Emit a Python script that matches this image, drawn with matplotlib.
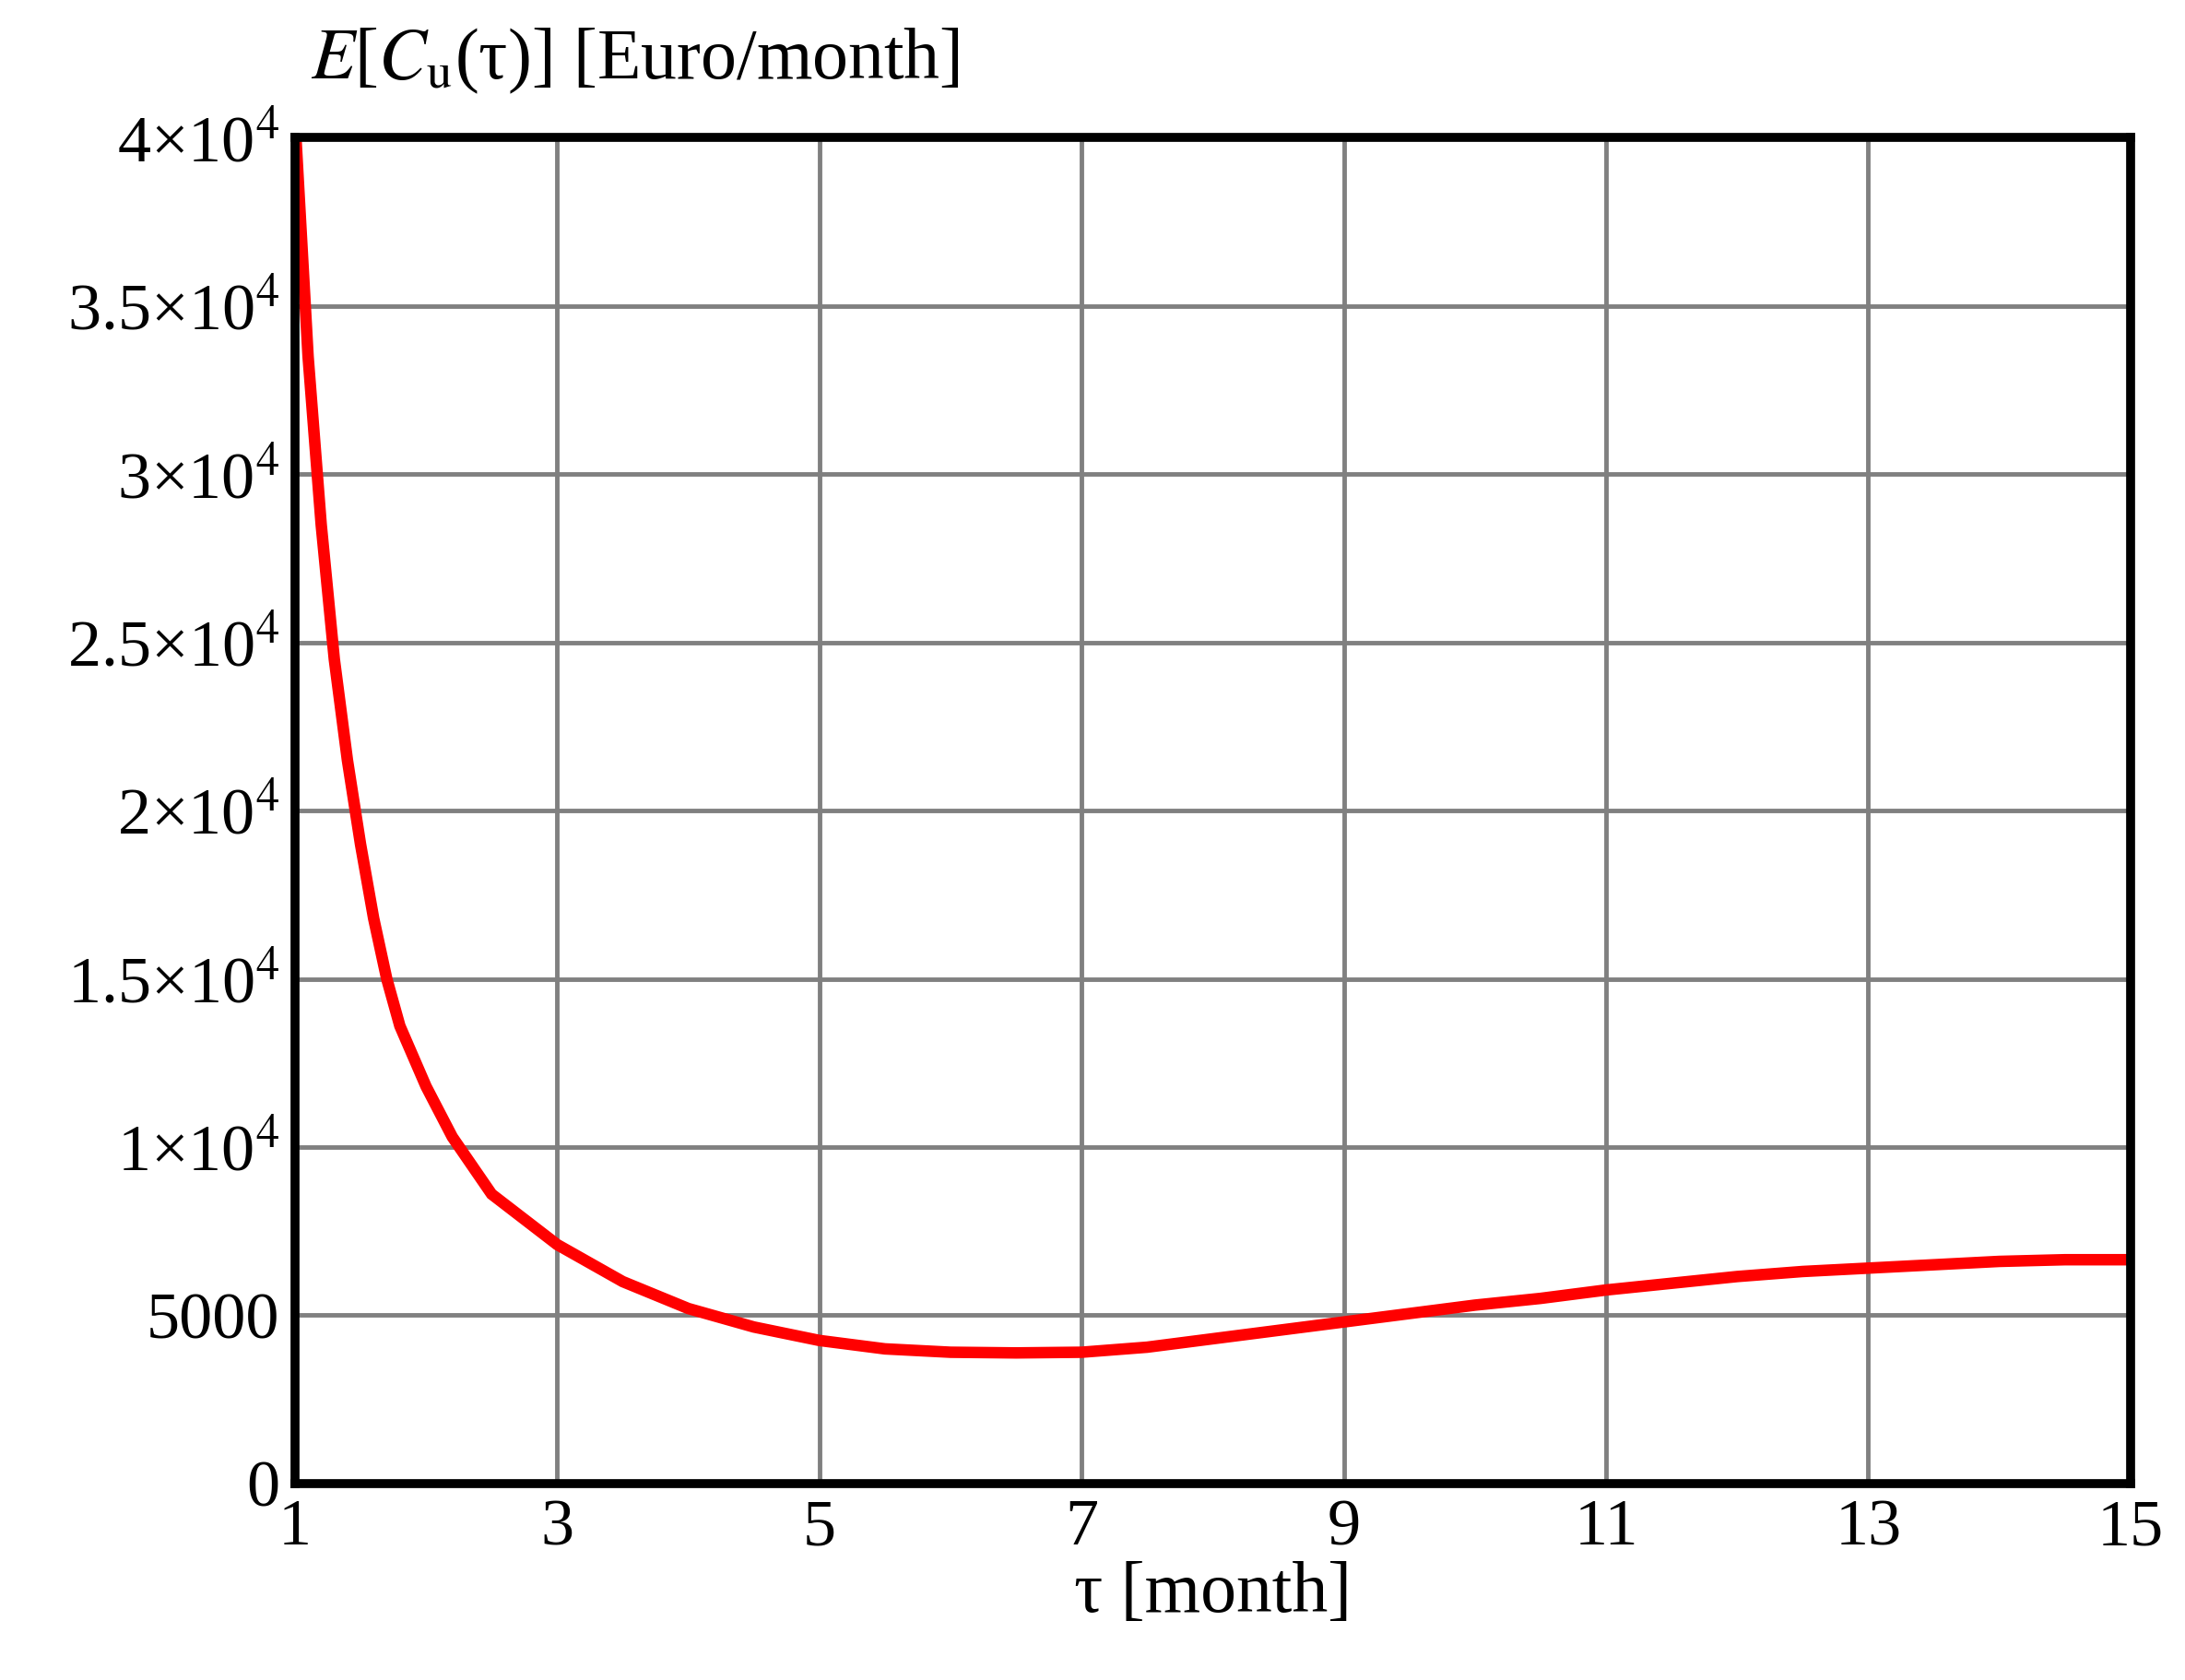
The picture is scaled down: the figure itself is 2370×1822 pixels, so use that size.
import numpy as np
import matplotlib.pyplot as plt

plt.rcParams['font.family'] = ['Liberation Serif', 'DejaVu Serif']
plt.rcParams['mathtext.fontset'] = 'stix'

# Values
tau = [1.0, 1.05, 1.1, 1.2, 1.3, 1.4, 1.5, 1.6, 1.7, 1.8, 2.0, 2.2, 2.5, 3.0, 3.5,
       4.0, 4.5, 5.0, 5.5, 6.0, 6.5, 7.0, 7.5, 8.0, 8.5, 9.0, 9.5, 10.0, 10.5,
       11.0, 11.5, 12.0, 12.5, 13.0, 13.5, 14.0, 14.5, 15.0]
cost = [40500, 37000, 33500, 28500, 24500, 21500, 19000, 16800, 15000, 13600,
        11800, 10300, 8600, 7100, 6000, 5200, 4650, 4250, 4000, 3900, 3880,
        3900, 4050, 4300, 4550, 4800, 5050, 5300, 5500, 5750, 5950, 6150,
        6300, 6400, 6500, 6600, 6650, 6650]

xticks = [1, 3, 5, 7, 9, 11, 13, 15]
yticks = [0, 5000, 10000, 15000, 20000, 25000, 30000, 35000, 40000]
ylabels = ['0', '5000', r'1×10$^{4}$', r'1.5×10$^{4}$', r'2×10$^{4}$',
           r'2.5×10$^{4}$', r'3×10$^{4}$', r'3.5×10$^{4}$', r'4×10$^{4}$']

fig = plt.figure(figsize=(23.7, 18.22), dpi=100)
ax = fig.add_axes([0.135, 0.117, 0.84, 0.801])

ax.plot(tau, cost, color='#ff0000', lw=9, solid_joinstyle='miter', zorder=3)

ax.set_xlim(1, 15)
ax.set_ylim(0, 40000)
ax.set_xticks(xticks)
ax.set_xticklabels([str(t) for t in xticks])
ax.set_yticks(yticks)
ax.set_yticklabels(ylabels)
ax.tick_params(labelsize=52, length=0, pad=12)
ax.grid(True, color='#808080', lw=3.5)
for s in ax.spines.values():
    s.set_linewidth(7)
    s.set_color('black')
    s.set_zorder(4)

ax.set_xlabel('τ [month]', fontsize=56, labelpad=2)
fig.text(0.142, 0.943, r'$E$[$C_{\rm u}$(τ)] [Euro/month]', fontsize=56, ha='left', va='bottom')

fig.savefig('out.png', dpi=100)
